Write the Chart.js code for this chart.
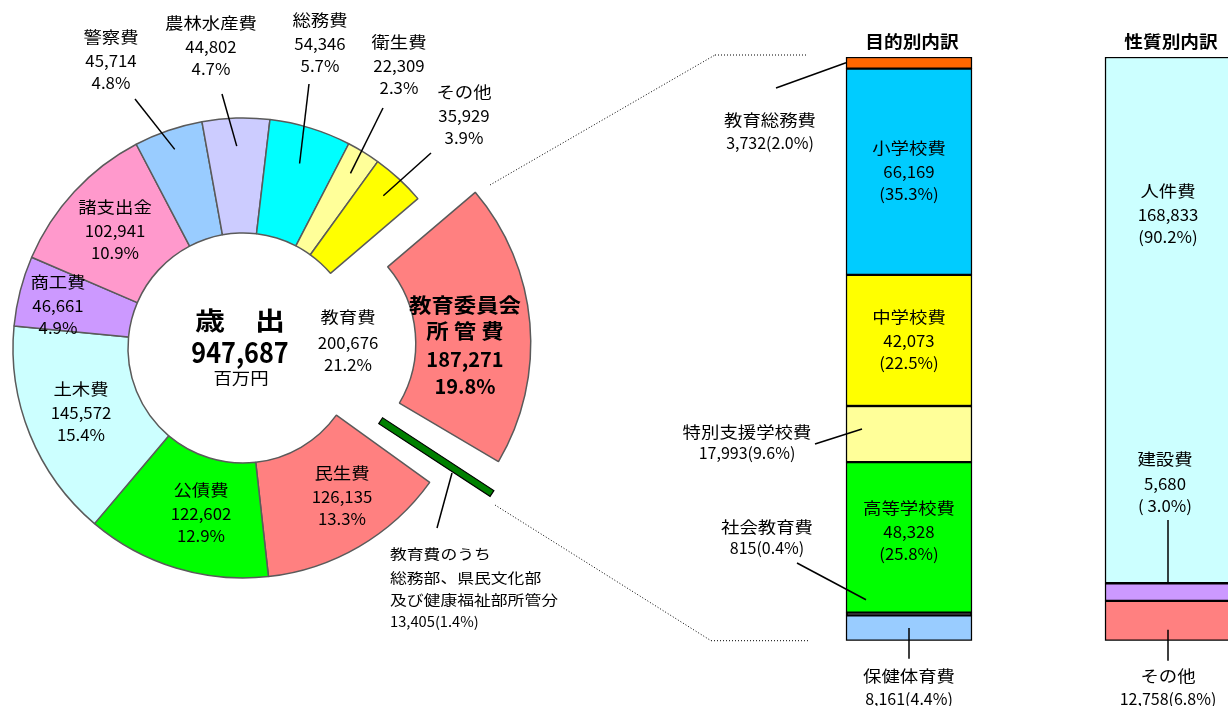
<!DOCTYPE html>
<html lang="ja">
<head>
<meta charset="utf-8">
<script src="https://cdn.jsdelivr.net/npm/chart.js@4/dist/chart.umd.min.js"></script>
<style>
html, body { margin: 0; padding: 0; background: #fff; overflow: hidden; width: 1228px; height: 706px; }
canvas { position: absolute; left: 0; top: 0; }
</style>
</head>
<body>
<canvas id="pieChart" width="1228" height="706"></canvas>
<canvas id="barChart" width="1320" height="706"></canvas>
<script>
// 歳出 (百万円)
const pieNames = ['教育委員会所管費', '教育費のうち総務部、県民文化部及び健康福祉部所管分', '民生費', '公債費', '土木費', '商工費', '諸支出金', '警察費', '農林水産費', '総務費', '衛生費', 'その他'];
const pieValues = [187271, 13405, 126135, 122602, 145572, 46661, 102941, 45714, 44802, 54346, 22309, 35929];
const piePercents = [19.8, 1.4, 13.3, 12.9, 15.4, 4.9, 10.9, 4.8, 4.7, 5.7, 2.3, 3.9];
const eduValue = 200676;
const eduPercent = 21.2;

// 教育委員会所管費の内訳
const barTitles = ['目的別内訳', '性質別内訳'];
const purposeNames = ['教育総務費', '小学校費', '中学校費', '特別支援学校費', '高等学校費', '社会教育費', '保健体育費'];
const purposeValues = [3732, 66169, 42073, 17993, 48328, 815, 8161];
const purposePercents = [2.0, 35.3, 22.5, 9.6, 25.8, 0.4, 4.4];
const natureNames = ['人件費', '建設費', 'その他'];
const natureValues = [168833, 5680, 12758];
const naturePercents = [90.2, 3.0, 6.8];

const pieColors = ['#ff8080', 'rgba(0,0,0,0)', '#ff8080', '#00ff00', '#ccffff', '#cc99ff', '#ff99cc', '#99ccff', '#ccccff', '#00ffff', '#ffff99', '#ffff00'];
const purposeColors = ['#ff6600', '#00ccff', '#ffff00', '#ffff99', '#00ff00', '#000000', '#99ccff'];
const natureColors = ['#ccffff', '#cc99ff', '#ff8080'];

const FONT = '"Noto Sans CJK JP", "Noto Sans", sans-serif';
const fmt = (v) => v.toLocaleString('en-US');
const pct = (p) => p.toFixed(1) + '%';

function text(ctx, str, x, y, size, o = {}) {
    ctx.save();
    ctx.font = (o.bold ? 'bold ' : '') + size + 'px ' + FONT;
    ctx.fillStyle = '#000';
    ctx.textAlign = o.align || 'center';
    ctx.textBaseline = 'middle';
    ctx.translate(x, y);
    ctx.scale(o.sx || 1.15, 1);
    ctx.fillText(str, 0, 0);
    ctx.restore();
}

function line(ctx, x1, y1, x2, y2, dotted) {
    ctx.save();
    ctx.strokeStyle = '#000';
    ctx.lineWidth = dotted ? 1 : 1.5;
    if (dotted) ctx.setLineDash([1, 2]);
    ctx.beginPath();
    ctx.moveTo(x1, y1);
    ctx.lineTo(x2, y2);
    ctx.stroke();
    ctx.restore();
}

// label layout for the ring: [x, y of the middle line]
const pieLabelAt = [[465, 345], [390, 554], [342, 497], [201, 514], [81, 413], [58, 306], [115, 231], [111, 61], [211, 47], [320, 44], [399, 66], [464, 116]];
const pieLeaders = [[7, 135, 99, 210], [8, 222, 94, 202], [9, 309, 84, 193], [10, 383, 108, 205], [11, 431, 153, 207]];

function arcPoint(arc, r, shift = 0) {
    const a = (arc.startAngle + arc.endAngle) / 2;
    return [arc.x + Math.cos(a) * r + Math.sin(a) * shift, arc.y + Math.sin(a) * r - Math.cos(a) * shift];
}

const pieLabels = {
    id: 'pieLabels',
    afterDatasetsDraw(chart) {
        const ctx = chart.ctx;
        const arcs = chart.getDatasetMeta(0).data;

        // 教育費のうち他部局所管分: drawn as a thin bar along its slice
        const g = arcs[1];
        const p1 = arcPoint(g, g.innerRadius + 40, 14.5);
        const p2 = arcPoint(g, g.outerRadius + 58, 14.5);
        const a = (g.startAngle + g.endAngle) / 2;
        ctx.save();
        ctx.translate(p1[0], p1[1]);
        ctx.rotate(a);
        ctx.fillStyle = '#008000';
        ctx.strokeStyle = '#000';
        ctx.lineWidth = 1.2;
        const len = Math.hypot(p2[0] - p1[0], p2[1] - p1[1]);
        ctx.fillRect(0, -3.5, len, 7);
        ctx.strokeRect(0, -3.5, len, 7);
        ctx.restore();

        // centre
        text(ctx, '歳　出', 240, 320, 25, { bold: true, sx: 1.2 });
        text(ctx, fmt(pieValues.reduce((s, v) => s + v, 0)), 240, 352, 28, { bold: true, sx: 0.9 });
        text(ctx, '百万円', 241, 378, 16);
        text(ctx, '教育費', 348, 317, 16);
        text(ctx, fmt(eduValue), 348, 343, 16, { sx: 1.05 });
        text(ctx, pct(eduPercent), 348, 365, 16, { sx: 1.05 });

        pieLabelAt.forEach(([x, y], i) => {
            if (i === 0) {
                text(ctx, '教育委員会', x, y - 40, 20, { bold: true, sx: 1.12 });
                text(ctx, '所 管 費', x, y - 14, 20, { bold: true, sx: 1.12 });
                text(ctx, fmt(pieValues[i]), x, y + 14, 20, { bold: true, sx: 1.0 });
                text(ctx, pct(piePercents[i]), x, y + 41, 20, { bold: true, sx: 1.0 });
            } else if (i === 1) {
                const o = { align: 'left', sx: 1.2 };
                text(ctx, '教育費のうち', x, y, 14, o);
                text(ctx, '総務部、県民文化部', x, y + 24, 14, o);
                text(ctx, '及び健康福祉部所管分', x, y + 46, 14, o);
                text(ctx, fmt(pieValues[i]) + '(' + pct(piePercents[i]) + ')', x, y + 68, 14, { align: 'left', sx: 1.05 });
            } else {
                text(ctx, pieNames[i], x, y - 24, 16);
                text(ctx, fmt(pieValues[i]), x, y, 16, { sx: 1.05 });
                text(ctx, pct(piePercents[i]), x, y + 22, 16, { sx: 1.05 });
            }
        });

        pieLeaders.forEach(([i, x, y, r]) => {
            const e = arcPoint(arcs[i], r);
            line(ctx, x, y, e[0], e[1]);
        });
        line(ctx, 437, 528, 452, 473);
    }
};

const pieChart = new Chart(document.getElementById('pieChart'), {
    type: 'doughnut',
    data: {
        labels: pieNames,
        datasets: [{
            data: pieValues,
            backgroundColor: pieColors,
            borderColor: pieColors.map((c, i) => (i === 1 ? 'rgba(0,0,0,0)' : '#5a5a5a')),
            borderWidth: 1.5,
            offset: pieValues.map((v, i) => (i === 0 ? 220 : 0)),
            hoverOffset: 0,
        }],
    },
    options: {
        responsive: false,
        animation: false,
        events: [],
        rotation: 49.5,
        radius: 230,
        cutout: '50%',
        clip: false,
        layout: { padding: { left: 0, top: 0, right: 1228 - 486, bottom: 10 } },
        plugins: { legend: { display: false }, tooltip: { enabled: false } },
    },
    plugins: [pieLabels],
});

// stacked bars: datasets go bottom-up
const barSets = [];
purposeNames.map((n, i) => i).reverse().forEach((i) => {
    barSets.push({ label: purposeNames[i], data: [purposeValues[i], null], backgroundColor: purposeColors[i], group: 'p', idx: i });
});
natureNames.map((n, i) => i).reverse().forEach((i) => {
    barSets.push({ label: natureNames[i], data: [null, natureValues[i]], backgroundColor: natureColors[i], group: 'n', idx: i });
});
const barTotal = purposeValues.reduce((s, v) => s + v, 0);

function barEl(chart, group, idx) {
    const di = barSets.findIndex((d) => d.group === group && d.idx === idx);
    return chart.getDatasetMeta(di).data[group === 'p' ? 0 : 1];
}

const barLabels = {
    id: 'barLabels',
    afterDatasetsDraw(chart) {
        const ctx = chart.ctx;
        const top = barEl(chart, 'p', 0);
        const bottom = barEl(chart, 'p', purposeNames.length - 1);
        const left = top.x - top.width / 2;

        // titles
        [barEl(chart, 'p', 0), barEl(chart, 'n', 0)].forEach((e, i) => {
            text(ctx, barTitles[i], e.x + 3, 42, 17, { bold: true, sx: 1.1 });
        });

        // dotted connectors from the ring
        line(ctx, 490, 185, 715, top.y - 2, true);
        line(ctx, 715, top.y - 2, left - 39, top.y - 2, true);
        line(ctx, 495, 505, 711, bottom.base, true);
        line(ctx, 711, bottom.base, left - 37, bottom.base, true);

        // inside labels
        [[1, 0], [2, 0], [4, -5]].forEach(([i, dy]) => {
            const e = barEl(chart, 'p', i);
            const m = (e.y + e.base) / 2 + dy;
            text(ctx, purposeNames[i], e.x, m - 24, 16);
            text(ctx, fmt(purposeValues[i]), e.x, m, 16, { sx: 1.05 });
            text(ctx, '(' + pct(purposePercents[i]) + ')', e.x, m + 22, 16, { sx: 1.05 });
        });

        // outside labels with leaders
        const ext = (i) => fmt(purposeValues[i]) + '(' + pct(purposePercents[i]) + ')';
        let e = barEl(chart, 'p', 0);
        text(ctx, purposeNames[0], 770, 120, 16);
        text(ctx, ext(0), 770, 143, 16, { sx: 1.0 });
        line(ctx, 776, 88, left, (e.y + e.base) / 2);

        e = barEl(chart, 'p', 3);
        text(ctx, purposeNames[3], 747, 432, 16);
        text(ctx, ext(3), 747, 453, 16, { sx: 1.0 });
        line(ctx, 815, 444, left + 16, (e.y + e.base) / 2 - 5);

        e = barEl(chart, 'p', 5);
        text(ctx, purposeNames[5], 767, 527, 16);
        text(ctx, ext(5), 767, 548, 16, { sx: 1.0 });
        line(ctx, 797, 563, left + 20, e.y - 13);

        e = barEl(chart, 'p', 6);
        text(ctx, purposeNames[6], e.x, 676, 16);
        text(ctx, ext(6), e.x, 699, 16, { sx: 1.0 });
        line(ctx, e.x, (e.y + e.base) / 2, e.x, e.base + 18);

        // 性質別
        e = barEl(chart, 'n', 0);
        const m0 = e.y + (e.base - e.y) * 0.3;
        text(ctx, natureNames[0], e.x, m0 - 24, 16);
        text(ctx, fmt(natureValues[0]), e.x, m0, 16, { sx: 1.05 });
        text(ctx, '(' + pct(naturePercents[0]) + ')', e.x, m0 + 22, 16, { sx: 1.05 });

        e = barEl(chart, 'n', 1);
        text(ctx, natureNames[1], e.x - 3, 459, 16);
        text(ctx, fmt(natureValues[1]), e.x - 3, 484, 16, { sx: 1.05 });
        text(ctx, '( ' + pct(naturePercents[1]) + ')', e.x - 3, 506, 16, { sx: 1.05 });
        line(ctx, e.x, 520, e.x, e.y);

        e = barEl(chart, 'n', 2);
        text(ctx, natureNames[2], e.x, 676, 16);
        text(ctx, fmt(natureValues[2]) + '(' + pct(naturePercents[2]) + ')', e.x, 699, 16, { sx: 1.0 });
        line(ctx, e.x, (e.y + e.base) / 2 + 9, e.x, e.base + 20);
    }
};

const barChart = new Chart(document.getElementById('barChart'), {
    type: 'bar',
    data: {
        labels: barTitles,
        datasets: barSets.map((d) => ({
            label: d.label,
            data: d.data,
            backgroundColor: d.backgroundColor,
            borderColor: '#000',
            borderWidth: 1.5,
            borderSkipped: false,
            barThickness: 126,
        })),
    },
    options: {
        responsive: false,
        animation: false,
        events: [],
        layout: { padding: { left: 779.5, right: 22.5, top: 57, bottom: 65.3 } },
        scales: {
            x: { stacked: true, display: false, grid: { display: false } },
            y: { stacked: true, display: false, min: 0, max: barTotal },
        },
        plugins: { legend: { display: false }, tooltip: { enabled: false } },
    },
    plugins: [barLabels],
});
</script>
</body>
</html>
